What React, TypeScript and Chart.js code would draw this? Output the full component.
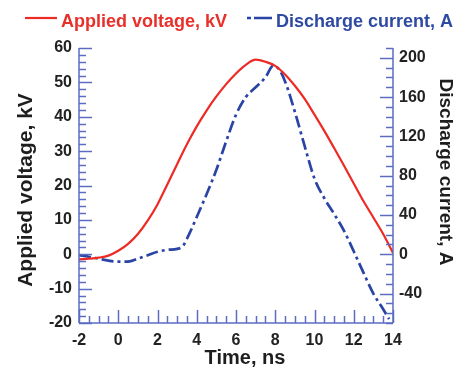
import React, { useEffect, useRef } from "react";
import { Chart, registerables } from "chart.js";

Chart.register(...registerables);

// ---- data ----
const voltageTime = [-2, -1.5, -1, -0.5, 0, 0.5, 1, 1.5, 2, 2.5, 3, 3.5, 4, 4.5, 5, 5.5, 6, 6.5, 7, 7.5, 8, 8.5, 9, 9.5, 10, 10.5, 11, 11.5, 12, 12.5, 13, 13.5, 14];
const voltageKV = [-1.5, -1.3, -1.0, -0.4, 1.0, 3.0, 5.9, 9.8, 14.5, 20.3, 26.2, 32.0, 37.2, 41.8, 45.9, 49.5, 52.6, 55.1, 56.6, 56.0, 54.8, 52.3, 49.0, 45.2, 40.6, 35.9, 30.9, 25.8, 20.6, 15.4, 10.7, 5.9, 0.4];

const currentTime = [-2, -1.5, -1, -0.5, 0, 0.5, 1, 1.5, 2, 2.5, 3, 3.3, 3.6, 4, 4.5, 5, 5.5, 6, 6.5, 7, 7.5, 7.9, 8.2, 8.5, 9, 9.5, 10, 10.5, 11, 11.5, 12, 12.5, 13, 13.5, 13.8];
const currentA = [-1, -2.5, -4.5, -6.5, -7.5, -7.5, -4.5, -1, 2.5, 4.5, 5.5, 8.5, 20, 38, 61, 86, 115, 142, 160, 170, 180, 192, 188, 176, 145, 110, 77, 57, 41, 24, 3, -19, -40, -56, -66];

const xTickValues = [-2, 0, 2, 4, 6, 8, 10, 12, 14];
const leftTickValues = [-20, -10, 0, 10, 20, 30, 40, 50, 60];
const rightTickValues = [-40, 0, 40, 80, 120, 160, 200];

const legendLabels = ["Applied voltage, kV", "Discharge current, A"];
const xTitle = "Time, ns";
const leftTitle = "Applied voltage, kV";
const rightTitle = "Discharge current, A";

// ---- styles ----
const RED = "#ee2a24";
const RED_TEXT = "#e8302a";
const BLUE = "#2a44a6";
const BLUE_TEXT = "#2f4aa2";
const AXIS = "#5b6cc2";
const FONT = "'Liberation Sans', Arial, sans-serif";
const BLUE_DASH = [12, 4, 3, 4];

const decorPlugin = {
  id: "decor",
  afterDraw(chart: any) {
    const { ctx, chartArea } = chart;
    const { left, right, top, bottom } = chartArea;
    const x = chart.scales.x;
    const y = chart.scales.y;
    const y1 = chart.scales.y1;
    ctx.save();
    ctx.strokeStyle = AXIS;
    ctx.lineWidth = 1.5;
    ctx.lineCap = "butt";
    const seg = (x0: number, y0: number, x1: number, y1p: number) => {
      ctx.beginPath();
      ctx.moveTo(x0, y0);
      ctx.lineTo(x1, y1p);
      ctx.stroke();
    };
    // axis lines
    seg(left, top, left, bottom);
    seg(right, top, right, bottom);
    seg(left, bottom, right, bottom);
    const isMajor = (v: number, step: number) => Math.abs(v / step - Math.round(v / step)) < 1e-6;
    // x ticks (inward)
    for (let i = 0; i <= 32; i++) {
      const v = x.min + i * 0.5;
      const px = Math.round(x.getPixelForValue(v)) + 0.5;
      seg(px, bottom, px, bottom - (isMajor(v, 2) ? 13 : 7));
    }
    // left ticks
    for (let i = 0; i <= 40; i++) {
      const v = y.min + i * 2;
      const py = Math.round(y.getPixelForValue(v)) + 0.5;
      seg(left, py, left + (isMajor(v, 10) ? 13 : 7), py);
    }
    // right ticks
    for (let i = 0; i <= 28; i++) {
      const v = y1.min + i * 10;
      const py = Math.round(y1.getPixelForValue(v)) + 0.5;
      seg(right, py, right - (isMajor(v, 40) ? 13 : 7), py);
    }
    // titles
    ctx.fillStyle = "#1e1e1e";
    ctx.textAlign = "center";
    ctx.textBaseline = "middle";
    ctx.font = `bold 20px ${FONT}`;
    ctx.fillText(xTitle, 245, 358);
    ctx.save();
    ctx.translate(26, 190);
    ctx.rotate(-Math.PI / 2);
    ctx.font = `bold 21px ${FONT}`;
    ctx.fillText(leftTitle, 0, 0);
    ctx.restore();
    ctx.save();
    ctx.translate(445, 172);
    ctx.rotate(Math.PI / 2);
    ctx.font = `bold 19px ${FONT}`;
    ctx.fillText(rightTitle, 0, 0);
    ctx.restore();
    // legend
    ctx.font = `bold 18px ${FONT}`;
    ctx.textAlign = "left";
    ctx.textBaseline = "alphabetic";
    ctx.strokeStyle = RED;
    ctx.lineWidth = 2.2;
    seg(25, 18, 57, 18);
    ctx.fillStyle = RED_TEXT;
    ctx.fillText(legendLabels[0], 61, 27);
    ctx.strokeStyle = BLUE;
    ctx.lineWidth = 2.5;
    ctx.setLineDash([4, 3, 18, 0]);
    seg(247, 18, 272, 18);
    ctx.setLineDash([]);
    ctx.fillStyle = BLUE_TEXT;
    ctx.fillText(legendLabels[1], 276, 27);
    ctx.restore();
  },
};

export default function App() {
  const ref = useRef<HTMLCanvasElement | null>(null);
  useEffect(() => {
    if (!ref.current) return;
    const tickFont = { family: FONT, size: 16, weight: "bold" as const };
    const chart = new Chart(ref.current, {
      type: "line",
      data: {
        datasets: [
          {
            label: legendLabels[0],
            data: voltageTime.map((t, i) => ({ x: t, y: voltageKV[i] })),
            borderColor: RED,
            borderWidth: 2.2,
            pointRadius: 0,
            cubicInterpolationMode: "monotone",
            yAxisID: "y",
            fill: false,
          },
          {
            label: legendLabels[1],
            data: currentTime.map((t, i) => ({ x: t, y: currentA[i] })),
            borderColor: BLUE,
            borderWidth: 2.7,
            borderDash: BLUE_DASH,
            pointRadius: 0,
            cubicInterpolationMode: "monotone",
            yAxisID: "y1",
            fill: false,
          },
        ],
      },
      plugins: [decorPlugin],
      options: {
        animation: false,
        responsive: false,
        layout: { padding: { top: 48, left: 0, right: 0, bottom: 0 } },
        plugins: { legend: { display: false }, tooltip: { enabled: false } },
        scales: {
          x: {
            type: "linear",
            position: "bottom",
            min: -2,
            max: 14,
            grid: { display: false, drawTicks: false },
            border: { display: false },
            afterBuildTicks: (s: any) => {
              s.ticks = xTickValues.map((v) => ({ value: v }));
            },
            afterFit: (s: any) => {
              s.height = 49;
            },
            ticks: { font: tickFont, color: "#222", padding: 8, maxRotation: 0, autoSkip: false },
          },
          y: {
            type: "linear",
            position: "left",
            min: -20,
            max: 60,
            grid: { display: false, drawTicks: false },
            border: { display: false },
            afterBuildTicks: (s: any) => {
              s.ticks = leftTickValues.map((v) => ({ value: v }));
            },
            afterFit: (s: any) => {
              s.width = 79;
            },
            ticks: { font: tickFont, color: "#222", padding: 7, autoSkip: false },
          },
          y1: {
            type: "linear",
            position: "right",
            min: -70,
            max: 210,
            grid: { display: false, drawTicks: false },
            border: { display: false },
            afterBuildTicks: (s: any) => {
              s.ticks = rightTickValues.map((v) => ({ value: v }));
            },
            afterFit: (s: any) => {
              s.width = 69;
            },
            ticks: { font: tickFont, color: "#222", padding: 6, autoSkip: false },
          },
        },
      },
    });
    return () => chart.destroy();
  }, []);
  return (
    <div style={{ position: "absolute", left: 0, top: 0, width: 462, height: 372, background: "#fff" }}>
      <canvas ref={ref} width={462} height={372} style={{ display: "block" }} />
    </div>
  );
}
